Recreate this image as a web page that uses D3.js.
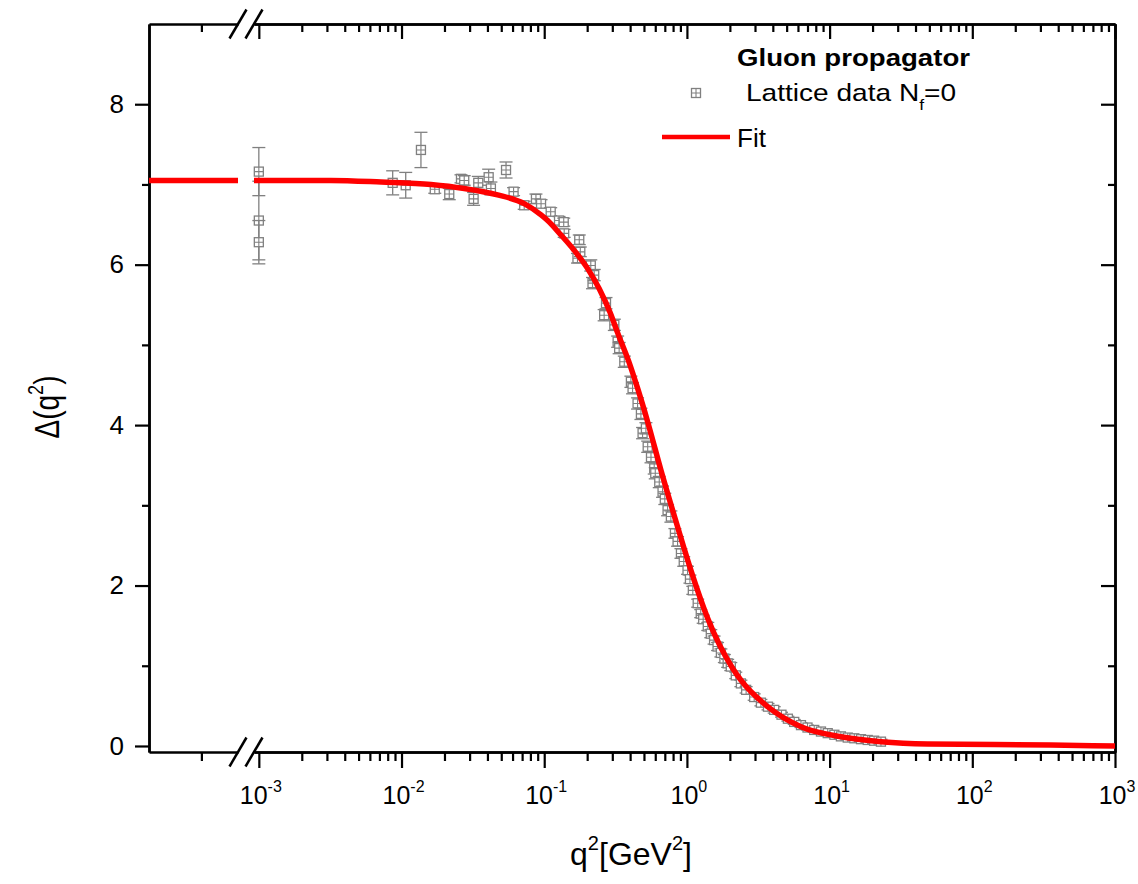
<!DOCTYPE html>
<html>
<head>
<meta charset="utf-8">
<script src="https://cdn.jsdelivr.net/npm/d3@7"></script>
<style>
body{margin:0;background:#fff;}
text{font-family:"Liberation Sans",Arial,sans-serif;fill:#000;}
.ax .domain{stroke:#000;stroke-width:2.5;}
.ax .tick line{stroke:#000;stroke-width:2.2;}
</style>
</head>
<body>
<div id="chart"></div>
<script>
// fit curve, left of the axis break and right of it
var fitLeftQ=[1e-6,5e-5];
var fitLeftD=[7.05,7.05];
var fitQ=[9.25e-4,0.0032,0.0072,0.0161,0.0275,0.0471,0.0724,0.095,0.1057,0.131,0.162,0.2,0.243,0.29,0.327,0.39,0.451,0.531,0.657,0.861,1.067,1.40,2.09,2.39,3.68,6.3,12,22.9,48.6,355,1000];
var fitD=[7.05,7.05,7.03,7.00,6.95,6.87,6.76,6.62,6.55,6.37,6.18,5.96,5.70,5.40,5.15,4.80,4.46,4.04,3.44,2.73,2.19,1.59,0.97,0.82,0.49,0.24,0.116,0.054,0.025,0.012,0.0];

// lattice data N_f=0
var latQ=[0.001,0.001,0.001,0.00867,0.0107,0.01368,0.0171,0.0216,0.0261,0.0275,0.032,0.0345,0.0408,0.0423,0.054,0.061,0.0724,0.0875,0.095,0.111,0.127,0.137,0.138,0.171,0.176,0.179,0.212,0.218,0.224,0.263,0.271,0.31,0.327,0.335,0.364,0.405,0.416,0.451,0.476,0.489,0.516,0.531,0.56,0.59,0.6,0.64,0.675,0.7,0.732,0.772,0.824,0.86,0.908,0.95,1.01,1.05,1.10,1.19,1.25,1.30,1.40,1.47,1.55,1.64,1.73,1.83,1.93,2.03,2.2,2.39,2.6,2.96,3.3,3.7,4.09,4.6,5.1,5.65,6.3,7.0,7.8,8.7,9.7,10.8,12.0,13.4,14.9,16.6,18.5,20.5,22.9];
var latD=[7.16,6.55,6.28,7.02,6.99,7.43,6.94,6.88,7.07,7.05,6.82,7.02,7.09,6.95,7.18,6.91,6.74,6.82,6.76,6.66,6.55,6.53,6.39,6.08,6.31,6.16,5.99,5.77,5.87,5.37,5.52,5.25,5.04,4.96,4.79,4.54,4.46,4.27,4.14,3.90,3.96,3.73,3.60,3.46,3.40,3.29,3.17,3.08,2.94,2.86,2.65,2.55,2.40,2.30,2.19,2.08,1.94,1.78,1.65,1.58,1.49,1.40,1.32,1.24,1.16,1.09,1.03,0.99,0.88,0.78,0.70,0.61,0.54,0.49,0.45,0.39,0.34,0.30,0.26,0.23,0.20,0.18,0.16,0.14,0.12,0.105,0.096,0.085,0.075,0.066,0.054];
var latE=[0.30,0.49,0.27,0.15,0.16,0.22,0.05,0.07,0.05,0.06,0.08,0.08,0.10,0.08,0.10,0.05,0.05,0.06,0.05,0.05,0.05,0.05,0.05,0.06,0.06,0.06,0.07,0.07,0.07,0.07,0.07,0.07,0.07,0.07,0.07,0.07,0.07,0.07,0.07,0.07,0.07,0.07,0.07,0.07,0.07,0.07,0.07,0.07,0.07,0.07,0.06,0.06,0.06,0.06,0.05,0.05,0.05,0.05,0.05,0.05,0.05,0.05,0.05,0.05,0.05,0.05,0.05,0.05,0.04,0.04,0.04,0.04,0.04,0.04,0.04,0.03,0.03,0.03,0.03,0.03,0.03,0.03,0.03,0.03,0.03,0.03,0.03,0.03,0.03,0.03,0.03];

var xMajor=[1e-3,1e-2,1e-1,1,10,100,1000];
var xExp=['-3','-2','-1','0','1','2','3'];
var yMajor=[0,2,4,6,8];
var yMinor=[1,3,5,7];

var W=1138,H=884;
var svg=d3.select('#chart').append('svg').attr('width',W).attr('height',H);

var xL=d3.scaleLog().domain([1e-6,5e-5]).range([149,238]);
var xR=d3.scaleLog().domain([9.25e-4,1e3]).range([254,1115]);
var y=d3.scaleLinear().domain([-0.075,9]).range([752,24]);

var xMinor=[];
for(var k=-3;k<3;k++){
    for(var m=2;m<10;m++) xMinor.push(m*Math.pow(10,k));
}

// bottom axis
var gb=svg.append('g').attr('class','ax').attr('transform','translate(0,752)');
gb.append('g').call(d3.axisBottom(xR).tickValues(xMajor).tickSize(16).tickSizeOuter(0).tickFormat(''));
gb.append('g').call(d3.axisBottom(xR).tickValues(xMinor).tickSize(9).tickSizeOuter(0).tickFormat(''));
gb.append('g').call(d3.axisBottom(xL).tickValues([1e-5]).tickSize(9).tickSizeOuter(0).tickFormat(''));
// top axis
var gt=svg.append('g').attr('class','ax').attr('transform','translate(0,24)');
gt.append('g').call(d3.axisTop(xR).tickValues(xMajor).tickSize(-15).tickSizeOuter(0).tickFormat(''));
gt.append('g').call(d3.axisTop(xR).tickValues(xMinor).tickSize(-8).tickSizeOuter(0).tickFormat(''));
gt.append('g').call(d3.axisTop(xL).tickValues([1e-5]).tickSize(-8).tickSizeOuter(0).tickFormat(''));
// left axis
var gl=svg.append('g').attr('class','ax').attr('transform','translate(149,0)');
gl.append('g').call(d3.axisLeft(y).tickValues(yMajor).tickSize(14).tickSizeOuter(0).tickPadding(11).tickFormat(d3.format('d')))
    .selectAll('text').style('font-size','26px').style('font-family','"Liberation Sans",Arial,sans-serif').attr('fill','#000');
gl.append('g').call(d3.axisLeft(y).tickValues(yMinor).tickSize(7).tickSizeOuter(0).tickFormat(''));
// right axis
var gr=svg.append('g').attr('class','ax').attr('transform','translate(1115,0)');
gr.append('g').call(d3.axisRight(y).tickValues(yMajor).tickSize(-14).tickSizeOuter(0).tickFormat(''));
gr.append('g').call(d3.axisRight(y).tickValues(yMinor).tickSize(-7).tickSizeOuter(0).tickFormat(''));

// axis break marks
[238,254].forEach(function(cx){
    [24,752].forEach(function(cy){
        svg.append('line')
            .attr('x1',cx-8.5).attr('y1',cy+14.5)
            .attr('x2',cx+8.5).attr('y2',cy-14.5)
            .attr('stroke','#000').attr('stroke-width',2.5);
    });
});

// x tick labels 10^n
xMajor.forEach(function(v,i){
    var t=svg.append('text')
        .attr('x',xR(v)+2).attr('y',804)
        .attr('text-anchor','middle')
        .style('font-size','25px');
    t.append('tspan').text('10');
    t.append('tspan').attr('dy',-12).style('font-size','16px').text(xExp[i]);
});

// lattice points
var colGray='#808080';
var gd=svg.append('g');
latQ.forEach(function(q,i){
    var px=xR(q), py=y(latD[i]);
    var y0=y(latD[i]-latE[i]), y1=y(latD[i]+latE[i]);
    gd.append('line').attr('x1',px).attr('x2',px).attr('y1',y0).attr('y2',y1)
        .attr('stroke',colGray).attr('stroke-width',1.3);
    [y0,y1].forEach(function(cy){
        gd.append('line').attr('x1',px-6.5).attr('x2',px+6.5).attr('y1',cy).attr('y2',cy)
            .attr('stroke',colGray).attr('stroke-width',1.3);
    });
    gd.append('rect').attr('x',px-4.5).attr('y',py-4.5).attr('width',9).attr('height',9)
        .attr('fill','#fff').attr('stroke',colGray).attr('stroke-width',1.3);
    gd.append('path').attr('d','M'+(px-4.5)+','+py+'H'+(px+4.5)+'M'+px+','+(py-4.5)+'V'+(py+4.5))
        .attr('stroke',colGray).attr('stroke-width',1.1);
});

// fit line
var lineL=d3.line().x(function(d){return xL(d[0]);}).y(function(d){return y(d[1]);});
var lineR=d3.line().x(function(d){return xR(d[0]);}).y(function(d){return y(d[1]);}).curve(d3.curveMonotoneX);
svg.append('path').attr('d',lineL(d3.zip(fitLeftQ,fitLeftD)))
    .attr('fill','none').attr('stroke','#ff0000').attr('stroke-width',5.5);
svg.append('path').attr('d',lineR(d3.zip(fitQ,fitD)))
    .attr('fill','none').attr('stroke','#ff0000').attr('stroke-width',5.5);

// legend
svg.append('text').attr('x',737).attr('y',66).style('font-size','23px').style('font-weight','bold')
    .attr('textLength',233).attr('lengthAdjust','spacingAndGlyphs').text('Gluon propagator');
var mx=696,my=93;
svg.append('rect').attr('x',mx-4.5).attr('y',my-4.5).attr('width',9).attr('height',9)
    .attr('fill','#fff').attr('stroke',colGray).attr('stroke-width',1.3);
svg.append('path').attr('d','M'+(mx-4.5)+','+my+'H'+(mx+4.5)+'M'+mx+','+(my-4.5)+'V'+(my+4.5))
    .attr('stroke',colGray).attr('stroke-width',1.1);
var lt=svg.append('text').attr('transform','translate(746,101) scale(1.17,1)').style('font-size','24px');
lt.append('tspan').text('Lattice data N');
lt.append('tspan').attr('dy',9).style('font-size','15px').text('f');
lt.append('tspan').attr('dy',-9).text('=0');
svg.append('line').attr('x1',662).attr('x2',730).attr('y1',137).attr('y2',137)
    .attr('stroke','#ff0000').attr('stroke-width',4.5);
svg.append('text').attr('x',737).attr('y',147).style('font-size','26px').text('Fit');

// axis titles
var xt=svg.append('text').attr('x',631).attr('y',865).attr('text-anchor','middle').style('font-size','32px');
xt.append('tspan').text('q');
xt.append('tspan').attr('dy',-15).style('font-size','20px').text('2');
xt.append('tspan').attr('dy',15).text('[GeV');
xt.append('tspan').attr('dy',-15).style('font-size','20px').text('2');
xt.append('tspan').attr('dy',15).text(']');

var yt=svg.append('text').attr('transform','translate(59,407) rotate(-90) scale(1,1.25)').attr('text-anchor','middle').style('font-size','28px');
yt.append('tspan').text('\u0394(q');
yt.append('tspan').attr('dy',-13).style('font-size','18px').text('2');
yt.append('tspan').attr('dy',13).text(')');
</script>
</body>
</html>
